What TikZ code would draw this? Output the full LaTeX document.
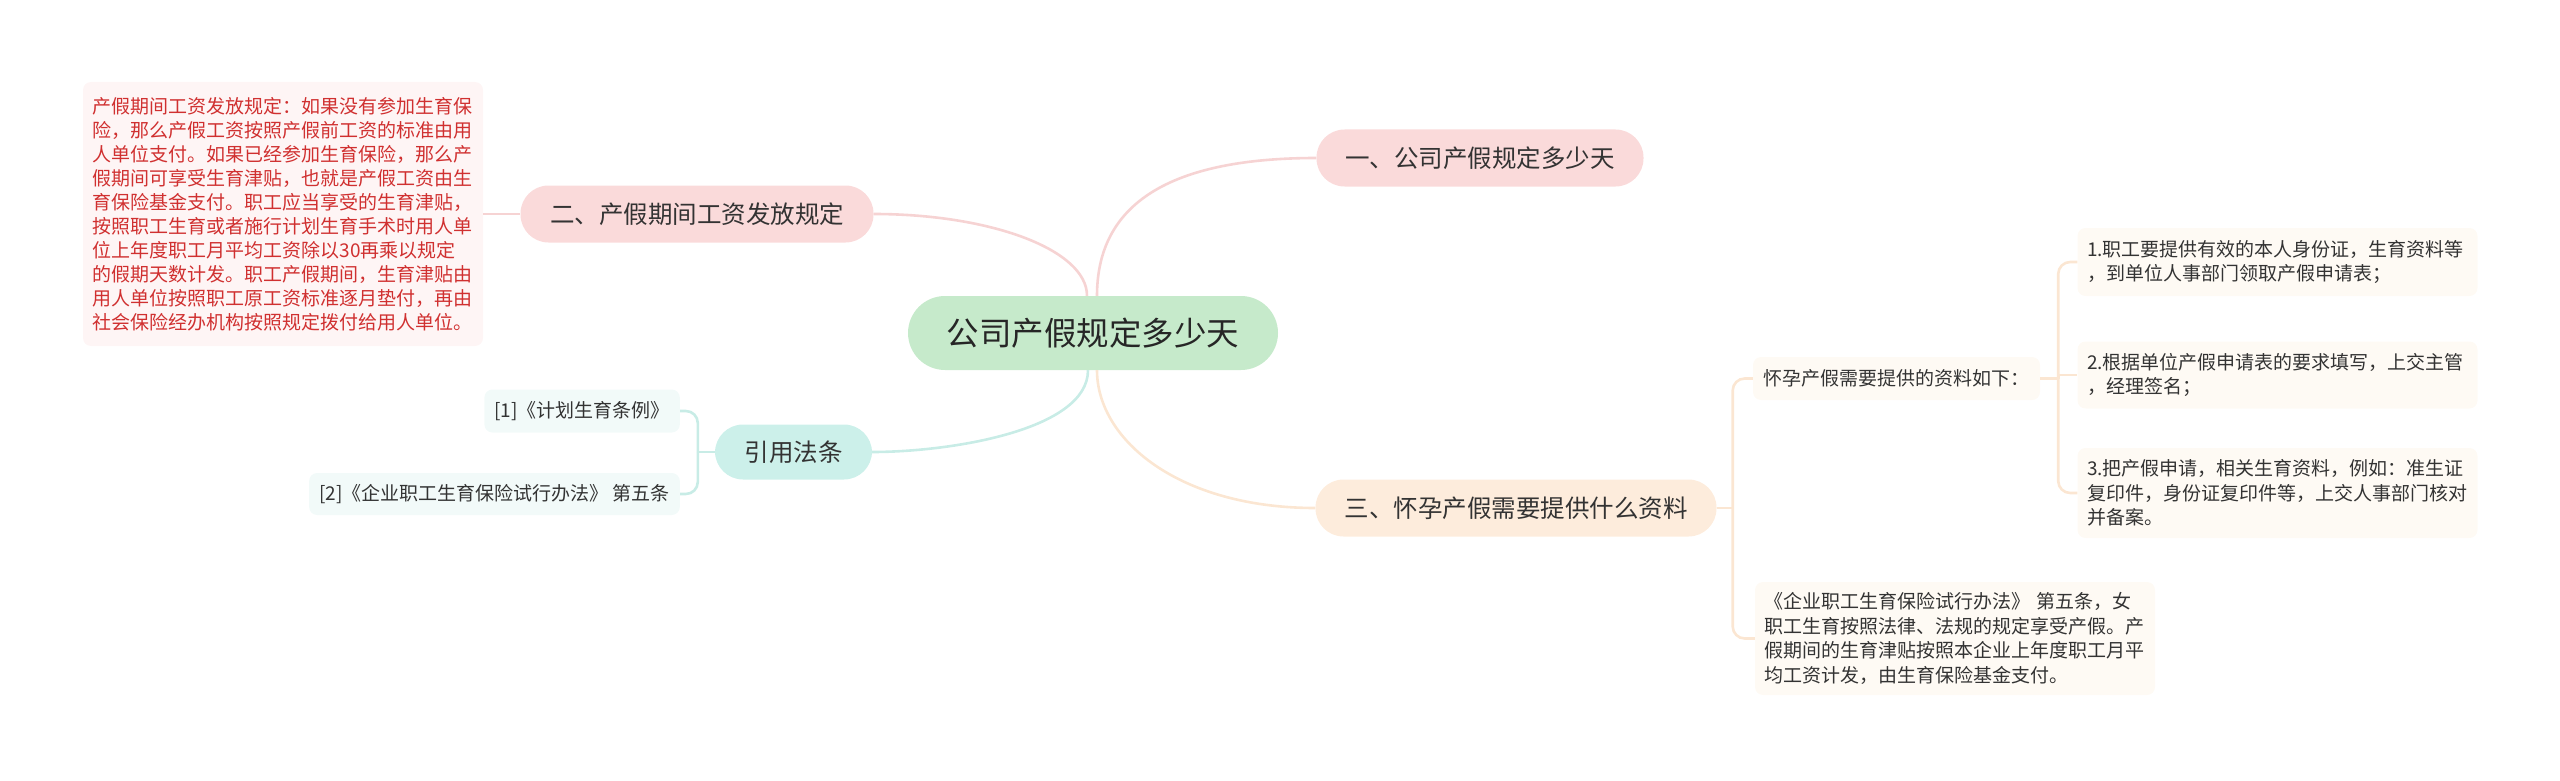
\documentclass[tikz,border=0pt]{standalone}
\usepackage{fontspec}
\setmainfont{Noto Sans CJK SC}
\definecolor{textdark}{HTML}{333333}
\definecolor{notered}{HTML}{D03030}
\definecolor{rootgreen}{HTML}{C6EACB}
\definecolor{pinkfill}{HTML}{FADADA}
\definecolor{peachfill}{HTML}{FDECDC}
\definecolor{tealfill}{HTML}{CCF0EA}
\definecolor{pinkpale}{HTML}{FEF5F5}
\definecolor{creampale}{HTML}{FEFAF4}
\definecolor{tealpale}{HTML}{F2FAF9}
\definecolor{pinkline}{HTML}{F6D3D3}
\definecolor{peachline}{HTML}{FBE6D2}
\definecolor{tealline}{HTML}{C8ECE6}
\tikzset{
  root/.style={fill=rootgreen, rounded corners=37pt, minimum width=370pt, minimum height=74pt, inner sep=0pt, text=black!85, font=\fontsize{32.5}{38}\selectfont},
  branch/.style={rounded corners=28pt, minimum height=57pt, inner sep=0pt, text=textdark, font=\fontsize{24.5}{28}\selectfont},
  leaf/.style={rounded corners=8pt, inner xsep=10pt, inner ysep=0pt, text=textdark, font=\fontsize{19}{24}\selectfont},
  note/.style={rounded corners=8pt, inner xsep=9.5pt, inner ysep=0pt, text width=381pt, align=left, text=textdark, font=\fontsize{19}{24.5}\selectfont},
  link/.style={line width=2.6pt}
}
\begin{document}
\begin{tikzpicture}[x=1pt,y=-1pt]
\useasboundingbox (0,0) rectangle (2560,781);
\node[root] (root) at (1093,333) {公司产假规定多少天};
\node[branch, fill=pinkfill, minimum width=327pt] (one) at (1480,158) {一、公司产假规定多少天};
\node[branch, fill=pinkfill, minimum width=353pt] (two) at (697,214) {二、产假期间工资发放规定};
\node[branch, fill=peachfill, minimum width=401pt] (three) at (1516,508) {三、怀孕产假需要提供什么资料};
\node[branch, fill=tealfill, minimum width=157pt, minimum height=55pt] (cite) at (793.5,452) {引用法条};
\node[note, fill=pinkpale, text=notered, minimum height=264pt, font=\fontsize{19}{24}\selectfont] (pay) at (283,214) {产假期间工资发放规定：如果没有参加生育保\\险，那么产假工资按照产假前工资的标准由用\\人单位支付。如果已经参加生育保险，那么产\\假期间可享受生育津贴，也就是产假工资由生\\育保险基金支付。职工应当享受的生育津贴，\\按照职工生育或者施行计划生育手术时用人单\\位上年度职工月平均工资除以30再乘以规定\\的假期天数计发。职工产假期间，生育津贴由\\用人单位按照职工原工资标准逐月垫付，再由\\社会保险经办机构按照规定拨付给用人单位。};
\node[leaf, fill=tealpale, anchor=east, minimum height=43pt] (law1) at (680,411) {[1]《计划生育条例》};
\node[leaf, fill=tealpale, anchor=east, minimum height=42pt] (law2) at (680,494) {[2]《企业职工生育保险试行办法》 第五条};
\node[leaf, fill=creampale, minimum width=287pt, minimum height=43pt] (need) at (1896.5,378.5) {怀孕产假需要提供的资料如下：};
\node[note, fill=creampale, minimum height=68pt] (item1) at (2277.5,262) {1.职工要提供有效的本人身份证，生育资料等\\，到单位人事部门领取产假申请表；};
\node[note, fill=creampale, minimum height=67pt] (item2) at (2277.5,375) {2.根据单位产假申请表的要求填写，上交主管\\，经理签名；};
\node[note, fill=creampale, minimum height=90pt] (item3) at (2277.5,493) {3.把产假申请，相关生育资料，例如：准生证\\复印件，身份证复印件等，上交人事部门核对\\并备案。};
\node[note, fill=creampale, minimum height=113pt] (rule) at (1955,638.5) {《企业职工生育保险试行办法》 第五条，女\\职工生育按照法律、法规的规定享受产假。产\\假期间的生育津贴按照本企业上年度职工月平\\均工资计发，由生育保险基金支付。};
\coordinate (citefork) at ([xshift=-17pt]cite.west);
\coordinate (threefork) at ([xshift=16pt]three.east);
\coordinate (needfork) at ([xshift=18pt]need.east);
\draw[link, pinkline] ([xshift=4pt]root.north) .. controls +(0,-86) and +(-156,0) .. (one.west);
\draw[link, pinkline] ([xshift=-6pt]root.north) .. controls +(0,-46) and +(117,0) .. (two.east);
\draw[link, tealline] ([xshift=-5pt]root.south) .. controls +(0,60) and +(78,0) .. (cite.east);
\draw[link, peachline] ([xshift=4pt]root.south) .. controls +(0,70) and +(-136,0) .. (three.west);
\draw[link, pinkline] (two.west) -- (pay.east);
\draw[link, tealline] (cite.west) -- (citefork);
\draw[link, tealline, rounded corners=12pt] (citefork) |- (law1.east);
\draw[link, tealline, rounded corners=12pt] (citefork) |- (law2.east);
\draw[link, peachline] (three.east) -- (threefork);
\draw[link, peachline, rounded corners=12pt] (threefork) |- (need.west);
\draw[link, peachline, rounded corners=12pt] (threefork) |- (rule.west);
\draw[link, peachline] (need.east) -- (needfork);
\draw[link, peachline, rounded corners=12pt] (needfork) |- (item1.west);
\draw[link, peachline] (needfork) |- (item2.west);
\draw[link, peachline, rounded corners=12pt] (needfork) |- (item3.west);
\end{tikzpicture}
\end{document}
